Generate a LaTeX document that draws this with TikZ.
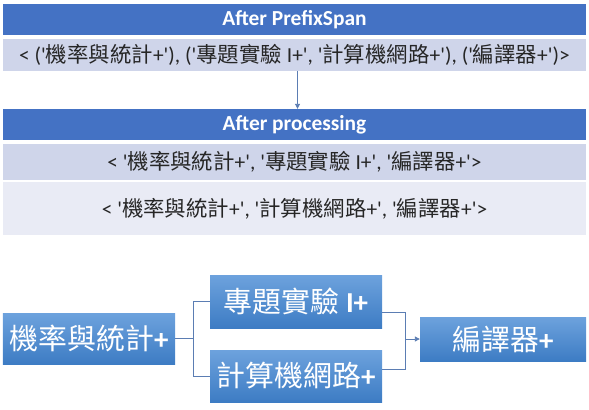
\documentclass[tikz,border=0pt]{standalone}
\usepackage{fontspec}
\usetikzlibrary{arrows.meta}
\setmainfont{Carlito}[Ligatures=TeXOff]
\newfontfamily\cjk{Noto Sans CJK TC}
\newcommand\zh[1]{{\cjk #1}}
\definecolor{headblue}{HTML}{4472C4}
\definecolor{rowdark}{HTML}{CFD5EA}
\definecolor{rowlight}{HTML}{E9EBF5}
\definecolor{linkblue}{HTML}{5B7DB3}
\definecolor{boxtop}{HTML}{6DA2DD}
\definecolor{boxbot}{HTML}{3D7CC4}
\begin{document}
\begin{tikzpicture}[x=1bp,y=-1bp,
  headbar/.style={fill=headblue,text=white,inner sep=0pt,minimum width=583bp,minimum height=31bp,font=\fontsize{21.5}{25}\selectfont\bfseries},
  tablerow/.style={inner sep=0pt,minimum width=583bp,text=black!85,font=\fontsize{21.5}{25}\selectfont},
  box/.style={top color=boxtop,bottom color=boxbot,text=white,inner sep=0pt,minimum width=172bp,font=\fontsize{29}{33}\selectfont},
  link/.style={draw=linkblue,line width=0.9bp},
  into/.style={-{Triangle[length=5bp,width=5bp]}}]
\useasboundingbox (0,0) rectangle (589,409);
\node[headbar] (pfhead) at (294.5,19.5) {After PrefixSpan};
\node[tablerow,fill=rowdark,minimum height=32bp] (pfrow) at (294.5,55) {< ('\zh{機率與統計}+'), ('\zh{專題實驗} I+', '\zh{計算機網路}+'), ('\zh{編譯器}+')>};
\node[headbar] (prochead) at (294.5,124.5) {After processing};
\node[tablerow,fill=rowdark,minimum height=36bp] (procrowa) at (294.5,162) {< '\zh{機率與統計}+', '\zh{專題實驗} I+', '\zh{編譯器}+'>};
\node[tablerow,fill=rowlight,minimum height=53bp] (procrowb) at (294.5,208.5) {< '\zh{機率與統計}+', '\zh{計算機網路}+', '\zh{編譯器}+'>};
\draw[link,into] ([xshift=3bp]pfrow.south) -- ([xshift=3bp]prochead.north);
\node[box,minimum height=51bp] (stat) at (89,338.5) {\zh{機率與統計}\textbf{+}};
\node[box,minimum height=53bp] (proj) at (296,301.5) {\zh{專題實驗} \textbf{I+}};
\node[box,minimum height=52bp] (net) at (296,376) {\zh{計算機網路}\textbf{+}};
\node[box,minimum width=166bp,minimum height=44bp] (comp) at (503,339) {\zh{編譯器}\textbf{+}};
\coordinate (split) at (193,338.5);
\coordinate (join) at (405,339);
\draw[link] (stat.east) -- (split) |- (proj.west);
\draw[link] (split) |- (net.west);
\draw[link] ([yshift=-10.5bp]proj.east) -| (join);
\draw[link] ([yshift=7bp]net.east) -| (join);
\draw[link,into] (join) -- (comp.west);
\end{tikzpicture}
\end{document}
